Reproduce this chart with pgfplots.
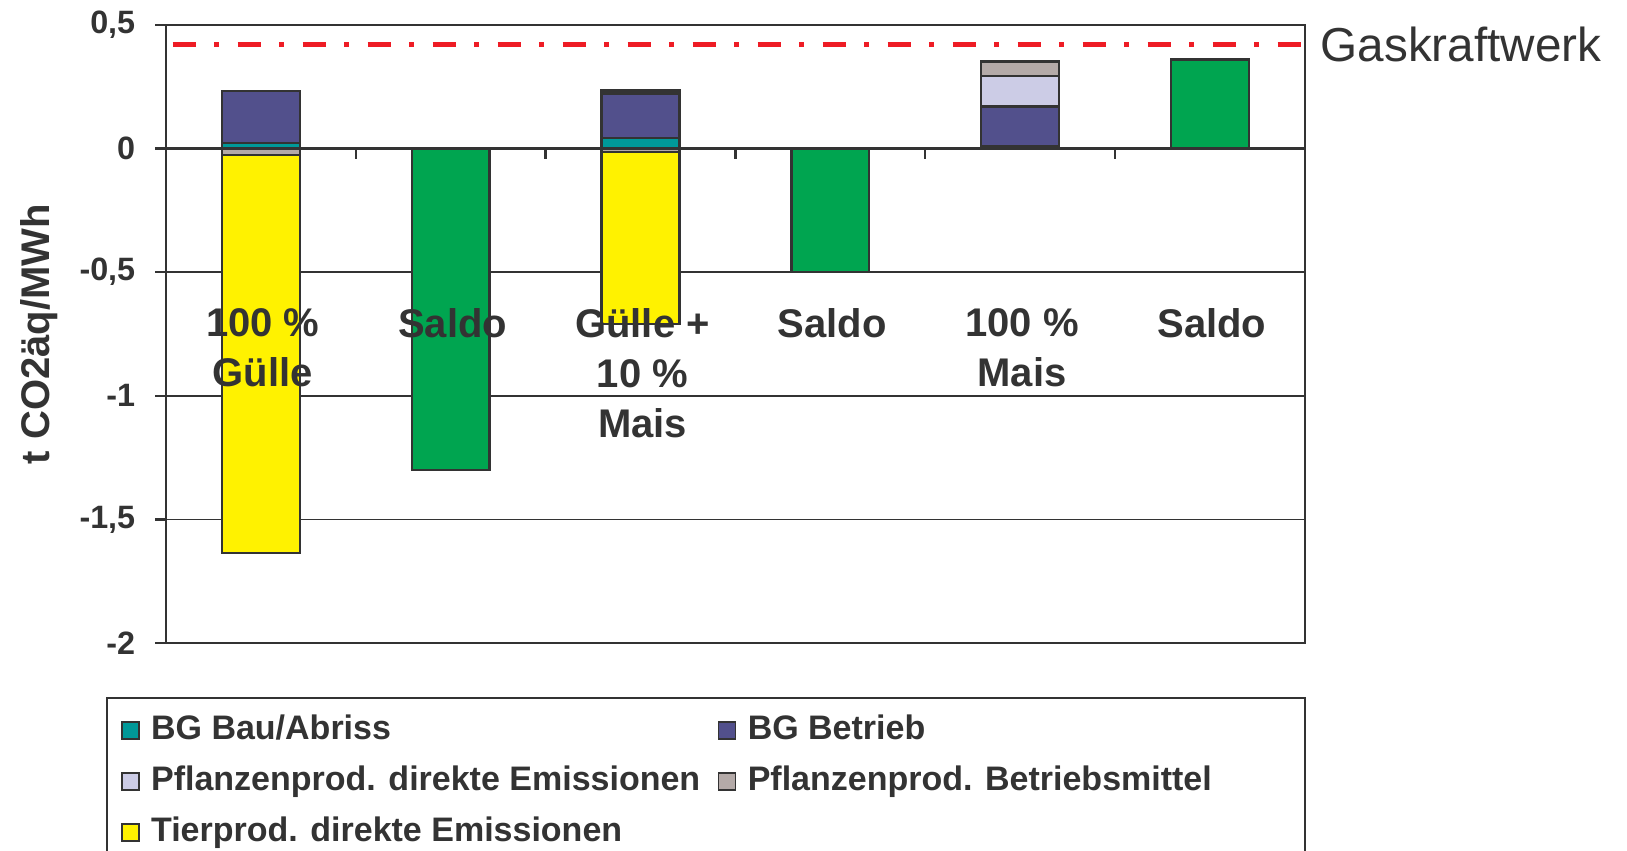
\documentclass[border=0pt]{standalone}
\usepackage{fontspec}
\setmainfont{Liberation Sans}
\usepackage{pgfplots}
\pgfplotsset{compat=1.18}
\definecolor{textc}{RGB}{51,51,51}
\definecolor{cteal}{RGB}{0,153,153}
\definecolor{cbetr}{RGB}{82,80,140}
\definecolor{clav}{RGB}{204,204,230}
\definecolor{cgray}{RGB}{180,170,168}
\definecolor{cyel}{RGB}{255,242,0}
\definecolor{cgreen}{RGB}{0,165,80}
\definecolor{cred}{RGB}{238,28,37}
\pgfplotsset{
  sq/.style={legend image code/.code={\draw[##1, line width=0.5pt] (0pt,-2.6pt) rectangle (5.1pt,2.6pt);}},
  barst/.style={ybar, bar width=0.41, bar shift=0pt, draw=textc, line width=0.7pt, forget plot},
}
\begin{document}
\begin{tikzpicture}
\begin{axis}[
  at={(0,0)}, anchor=south west,
  width=341.7pt, height=185.4pt, scale only axis,
  clip=false,
  xmin=-0.5, xmax=5.5, ymin=-2, ymax=0.5,
  ytick={-2,-1.5,-1,-0.5,0,0.5},
  yticklabels={-2,{-1,5},-1,{-0,5},0,{0,5}},
  xtick=\empty,
  ytick pos=left,
  ymajorgrids,
  grid style={draw=textc, line width=0.5pt},
  extra y ticks={0}, extra y tick labels={},
  extra y tick style={grid style={draw=textc, line width=1pt}, major tick length=0pt},
  axis line style={draw=textc, line width=0.7pt},
  tick style={draw=textc, line width=0.7pt},
  tick align=outside, major tick length=3.2pt,
  yticklabel style={font=\fontsize{9.7}{11}\selectfont\bfseries, text=textc, xshift=-2.5pt},
  ylabel={t CO2äq/MWh},
  every axis y label/.style={at={(axis description cs:-0.1115,0.5)}, rotate=90, anchor=center,
     font=\fontsize{12}{14}\selectfont\bfseries, text=textc},
  legend columns=2,
  legend cell align=left,
  legend style={at={(axis description cs:-0.0526,-0.0874)}, anchor=north west,
     draw=textc, line width=0.6pt, font=\fontsize{10.2}{12}\selectfont\bfseries, text=textc,
     inner xsep=4.2pt, inner ysep=3.85pt, row sep=3.6pt,
     nodes={inner xsep=3.4pt, inner ysep=1pt, text height=7.5pt, text depth=2.2pt}},
]
% negative parts (drawn back to front)
\addplot[barst, fill=cyel] coordinates {(0,-1.635) (2,-0.71)};
\addplot[barst, fill=cgray] coordinates {(0,-0.025) (2,-0.014)};
% positive parts, cumulative tops, back to front
\addplot[barst, fill=cgray] coordinates {(2,0.235) (4,0.353)};
\addplot[barst, fill=clav] coordinates {(2,0.229) (4,0.293)};
\addplot[barst, fill=cbetr] coordinates {(0,0.232) (2,0.223) (4,0.171)};
\addplot[barst, fill=cteal] coordinates {(0,0.022) (2,0.043) (4,0.008)};
% Saldo
\addplot[barst, fill=cgreen] coordinates {(1,-1.30) (3,-0.50) (5,0.36)};
% Gaskraftwerk
\addplot[cred, line width=1.5pt, dash pattern=on 7pt off 5.5pt on 1.5pt off 5.5pt, dash phase=17.5pt, forget plot]
  coordinates {(-0.5,0.42) (5.5,0.42)};
% tick marks on zero line
\draw[textc, line width=0.7pt] (axis cs:0.5,0) -- ++(0pt,-3.2pt);
\draw[textc, line width=0.7pt] (axis cs:1.5,0) -- ++(0pt,-3.2pt);
\draw[textc, line width=0.7pt] (axis cs:2.5,0) -- ++(0pt,-3.2pt);
\draw[textc, line width=0.7pt] (axis cs:3.5,0) -- ++(0pt,-3.2pt);
\draw[textc, line width=0.7pt] (axis cs:4.5,0) -- ++(0pt,-3.2pt);
% category labels
\begin{scope}[every node/.style={anchor=north, inner sep=0pt, align=center, text=textc,
    font=\fontsize{12}{15}\selectfont\bfseries}]
\node at (axis cs:0.01,-0.645) {100~\%\\Gülle};
\node at (axis cs:1.01,-0.645) {Saldo};
\node at (axis cs:2.01,-0.645) {Gülle +\\10~\%\\Mais};
\node at (axis cs:3.01,-0.645) {Saldo};
\node at (axis cs:4.01,-0.645) {100~\%\\Mais};
\node at (axis cs:5.01,-0.645) {Saldo};
\end{scope}
\node[anchor=west, inner sep=0pt, xshift=4.5pt, text=textc, font=\fontsize{14.3}{16}\selectfont]
  at (axis cs:5.5,0.42) {Gaskraftwerk};
% legend
\addlegendimage{sq, fill=cteal, draw=textc}
\addlegendentry{\makebox[166.6pt][l]{BG Bau/Abriss}}
\addlegendimage{sq, fill=cbetr, draw=textc}
\addlegendentry{\makebox[159.7pt][l]{BG Betrieb}}
\addlegendimage{sq, fill=clav, draw=textc}
\addlegendentry{\makebox[166.6pt][l]{Pflanzenprod. direkte Emissionen}}
\addlegendimage{sq, fill=cgray, draw=textc}
\addlegendentry{\makebox[159.7pt][l]{Pflanzenprod. Betriebsmittel}}
\addlegendimage{sq, fill=cyel, draw=textc}
\addlegendentry{\makebox[166.6pt][l]{Tierprod. direkte Emissionen}}
\end{axis}
\pgfresetboundingbox
\path[use as bounding box] (-49.8pt,-62.1pt) rectangle (438.3pt,192.9pt);
\end{tikzpicture}
\end{document}
